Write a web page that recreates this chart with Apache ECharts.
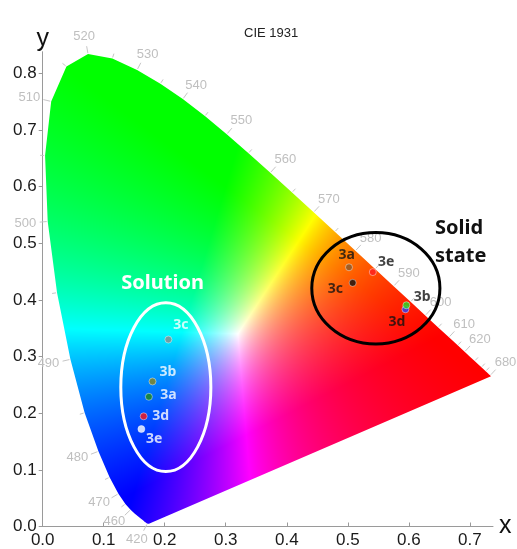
<!DOCTYPE html>
<html><head><meta charset="utf-8">
<script src="https://cdn.jsdelivr.net/npm/echarts@6/dist/echarts.min.js"></script>
<style>html,body{margin:0;padding:0;background:#fff}#c{width:517px;height:549px}</style>
</head><body><div id="c"></div>
<script>
// ---- CIE 1931 spectral locus (x, y) every 5 nm ----
const wavelengths = [380,385,390,395,400,405,410,415,420,425,430,435,440,445,450,455,460,465,470,475,480,485,490,495,500,505,510,515,520,525,530,535,540,545,550,555,560,565,570,575,580,585,590,595,600,605,610,615,620,625,630,635,640,645,650,655,660,665,670,675,680,685,690,695,700];
const locusX = [0.1741,0.1740,0.1738,0.1736,0.1733,0.1730,0.1726,0.1721,0.1714,0.1703,0.1689,0.1669,0.1644,0.1611,0.1566,0.1510,0.1440,0.1355,0.1241,0.1096,0.0913,0.0687,0.0454,0.0235,0.0082,0.0039,0.0139,0.0389,0.0743,0.1142,0.1547,0.1929,0.2296,0.2658,0.3016,0.3373,0.3731,0.4087,0.4441,0.4788,0.5125,0.5448,0.5752,0.6029,0.6270,0.6482,0.6658,0.6801,0.6915,0.7006,0.7079,0.7140,0.7190,0.7230,0.7260,0.7283,0.7300,0.7311,0.7320,0.7327,0.7334,0.7340,0.7344,0.7346,0.7347];
const locusY = [0.0050,0.0050,0.0049,0.0049,0.0048,0.0048,0.0048,0.0048,0.0051,0.0058,0.0069,0.0086,0.0109,0.0138,0.0177,0.0227,0.0297,0.0399,0.0578,0.0868,0.1327,0.2007,0.2950,0.4127,0.5384,0.6548,0.7502,0.8120,0.8338,0.8262,0.8059,0.7816,0.7543,0.7243,0.6923,0.6589,0.6245,0.5896,0.5547,0.5202,0.4866,0.4544,0.4242,0.3965,0.3725,0.3514,0.3340,0.3197,0.3083,0.2993,0.2920,0.2859,0.2809,0.2770,0.2740,0.2717,0.2700,0.2689,0.2680,0.2673,0.2666,0.2660,0.2656,0.2654,0.2653];

// wavelength annotations along the locus
const labeledWavelengths = [420,460,470,480,490,500,510,520,530,540,550,560,570,580,590,600,610,620,680];
const minorWavelengths = [465,475,485,495,505,515,525,535,545,555,565,575,585,595,605,615,630,640,650];

// axis ticks
const xTicks = [0,0.1,0.2,0.3,0.4,0.5,0.6,0.7];
const yTicks = [0,0.1,0.2,0.3,0.4,0.5,0.6,0.7,0.8];

// samples: solution
const solutionNames = ['3a','3b','3c','3d','3e'];
const solutionX = [0.174,0.180,0.206,0.1655,0.1617];
const solutionY = [0.229,0.256,0.330,0.1945,0.172];
// samples: solid state (3d listed before 3b so 3b sits on top)
const solidNames = ['3a','3e','3c','3d','3b'];
const solidX = [0.502,0.541,0.508,0.5945,0.596];
const solidY = [0.4575,0.449,0.430,0.3834,0.3905];

// grouping ellipses: [cx, cy, rx, ry] in chromaticity units
const solutionEllipse = [0.2018,0.2459,0.0738,0.149];
const solidEllipse = [0.546,0.4205,0.105,0.0983];

// neutral point of the colour rendering (x, y)
const renderWhite = [0.32, 0.34];

// ---- styles ----
const solutionColors = {'3a':'#1d8a1d','3b':'#8a8418','3c':'#8c8c8c','3d':'#ff1414','3e':'#ffffff'};
const solidColors = {'3a':'#8b5a2b','3b':'#22e022','3c':'#111111','3d':'#2a40ff','3e':'#ff2020'};
const solutionLabelOffset = {'3a':[19.6,-1.3],'3b':[15.4,-9],'3c':[12.4,-14.3],'3d':[17,0],'3e':[12.7,10.3]};
const solidLabelOffset = {'3a':[-2.3,-12.3],'3e':[13.3,-10.3],'3c':[-17.4,6],'3b':[15.7,-8],'3d':[-8.6,12.4]};

function idx(wl){ return wavelengths.indexOf(wl); }

function xyToLinRGB(x, y){
  if (y < 0.002) y = 0.002;
  const X = x / y, Y = 1, Z = (1 - x - y) / y;
  return [3.2406*X - 1.5372*Y - 0.4986*Z,
          -0.9689*X + 1.8758*Y + 0.0415*Z,
          0.0557*X - 0.2040*Y + 1.0570*Z];
}
const wRGB = xyToLinRGB(renderWhite[0], renderWhite[1]);
// colour of a chromaticity point (white-balanced, clipped, max-normalised)
function chromaColor(x, y){
  const c = xyToLinRGB(x, y);
  let r = Math.max(c[0]/wRGB[0],0), g = Math.max(c[1]/wRGB[1],0), b = Math.max(c[2]/wRGB[2],0);
  const m = Math.max(r,g,b,1e-6);
  return [r/m, g/m, b/m];
}

let fieldCanvas = null;
function buildField(api){
  if (fieldCanvas) return fieldCanvas;
  const W = api.getWidth(), H = api.getHeight();
  const p0 = api.coord([0,0]), p1 = api.coord([1,1]);
  const sx = p1[0]-p0[0], sy = p1[1]-p0[1];
  const cv = document.createElement('canvas');
  cv.width = W; cv.height = H;
  const ctx = cv.getContext('2d');
  const img = ctx.createImageData(W, H);
  for (let py=0; py<H; py++){
    const y = (py+0.5-p0[1])/sy;
    for (let px=0; px<W; px++){
      const x = (px+0.5-p0[0])/sx;
      const c = chromaColor(x, y);
      const k = (py*W+px)*4;
      img.data[k] = Math.round(c[0]*255);
      img.data[k+1] = Math.round(c[1]*255);
      img.data[k+2] = Math.round(c[2]*255);
      img.data[k+3] = 255;
    }
  }
  ctx.putImageData(img,0,0);
  fieldCanvas = cv;
  return cv;
}

// wavelength tick data: [x, y, wl, labeled]
const wlData = labeledWavelengths.map(w => [locusX[idx(w)], locusY[idx(w)], w, 1])
  .concat(minorWavelengths.map(w => [locusX[idx(w)], locusY[idx(w)], w, 0]));

const font = '"Liberation Sans", Arial, sans-serif';
const boldFont = '"Noto Sans", "Open Sans", sans-serif';

const chart = echarts.init(document.getElementById('c'));
chart.setOption({
  animation: false,
  backgroundColor: '#fff',
  title: { text: 'CIE 1931', left: 239, top: 22,
    textStyle: { fontSize: 13, fontWeight: 'normal', color: '#222', fontFamily: font } },
  grid: { left: 42.7, right: 24, top: 51.7, bottom: 22.5 },
  xAxis: {
    type: 'value', min: 0, max: 0.738,
    name: 'x', nameLocation: 'end', nameGap: 6,
    nameTextStyle: { fontSize: 25, color: '#111', fontFamily: font, verticalAlign: 'middle' },
    axisLine: { show: true, lineStyle: { color: '#9a9a9a', width: 1 } },
    axisTick: { show: true, inside: true, length: 4, customValues: xTicks, lineStyle: { color: '#9a9a9a' } },
    axisLabel: { customValues: xTicks, formatter: v => v.toFixed(1), fontSize: 17, color: '#1a1a1a', fontFamily: font, margin: 5 },
    splitLine: { show: false }
  },
  yAxis: {
    type: 'value', min: 0, max: 0.838,
    name: 'y', nameLocation: 'end', nameGap: 0,
    nameTextStyle: { fontSize: 25, color: '#111', fontFamily: font, align: 'center' },
    axisLine: { show: true, lineStyle: { color: '#9a9a9a', width: 1 } },
    axisTick: { show: true, inside: false, length: 4, customValues: yTicks, lineStyle: { color: '#9a9a9a' } },
    axisLabel: { customValues: yTicks, formatter: v => v.toFixed(1), fontSize: 17, color: '#1a1a1a', fontFamily: font, margin: 6 },
    splitLine: { show: false }
  },
  series: [
    { // colour-filled gamut
      type: 'custom', z: 1, silent: true, clip: false,
      data: [[locusX[0], locusY[0]]],
      renderItem: function(params, api){
        const pts = locusX.map((x,i) => api.coord([x, locusY[i]]));
        const cv = buildField(api);
        return { type: 'polygon', shape: { points: pts },
          style: { fill: { image: cv, repeat: 'no-repeat' }, stroke: null } };
      }
    },
    { // wavelength ticks & labels
      type: 'custom', z: 2, silent: true, clip: false,
      data: wlData,
      renderItem: function(params, api){
        const w = api.value(2), lab = api.value(3);
        const i = idx(w);
        const p = api.coord([locusX[i], locusY[i]]);
        const a = api.coord([locusX[i-1], locusY[i-1]]);
        const b = api.coord([locusX[i+1], locusY[i+1]]);
        let tx = b[0]-a[0], ty = b[1]-a[1];
        const L = Math.hypot(tx,ty) || 1; tx/=L; ty/=L;
        let nx = ty, ny = -tx;
        const c = api.coord([0.33,0.33]);
        if ((p[0]-c[0])*nx + (p[1]-c[1])*ny < 0){ nx=-nx; ny=-ny; }
        const len = lab ? 8 : 5;
        const children = [{ type:'line', shape:{ x1:p[0]+nx*1, y1:p[1]+ny*1, x2:p[0]+nx*len, y2:p[1]+ny*len },
          style:{ stroke:'#c6c6c6', lineWidth:1 } }];
        if (lab){
          const gap = 11.5, hw = 11, hh = 6;
          children.push({ type:'text', x: p[0]+nx*gap+nx*hw, y: p[1]+ny*gap+ny*hh,
            style:{ text: String(w), fill:'#bfbfbf', font: '13px ' + font, align:'center', verticalAlign:'middle' } });
        }
        return { type:'group', children };
      }
    },
    { // grouping ellipses
      type: 'custom', z: 3, silent: true, clip: false,
      data: [solutionEllipse.concat([0]), solidEllipse.concat([1])],
      renderItem: function(params, api){
        const c = api.coord([api.value(0), api.value(1)]);
        const s = api.size([api.value(2), api.value(3)]);
        return { type:'ellipse', shape:{ cx:c[0], cy:c[1], rx:s[0], ry:s[1] },
          style:{ fill:'none', stroke: api.value(4) ? '#000' : '#fff', lineWidth: 3 } };
      }
    },
    { // solution samples
      type: 'scatter', z: 5, symbolSize: 7,
      data: solutionNames.map((n,i) => ({
        name: n, value: [solutionX[i], solutionY[i]],
        itemStyle: { color: solutionColors[n], borderColor: 'rgba(255,255,255,0.55)', borderWidth: 1 },
        label: { show: true, formatter: n, position: 'inside', offset: solutionLabelOffset[n],
          color: '#fff', fontSize: 14, fontWeight: 'bold', fontFamily: boldFont }
      }))
    },
    { // solid-state samples
      type: 'scatter', z: 5, symbolSize: 7,
      data: solidNames.map((n,i) => ({
        name: n, value: [solidX[i], solidY[i]],
        itemStyle: { color: solidColors[n], borderColor: 'rgba(255,255,255,0.55)', borderWidth: 1 },
        label: { show: true, formatter: n, position: 'inside', offset: solidLabelOffset[n],
          color: '#111', fontSize: 14, fontWeight: 'bold', fontFamily: boldFont }
      }))
    },
    { // group captions
      type: 'custom', z: 6, silent: true, clip: false,
      data: [[0.1965, 0.4295, 0], [0.643, 0.502, 1]],
      renderItem: function(params, api){
        const p = api.coord([api.value(0), api.value(1)]);
        const solid = api.value(2) === 1;
        return { type:'text', x: p[0], y: p[1],
          style:{ text: solid ? 'Solid\nstate' : 'Solution', fill: solid ? '#111' : '#fff',
            font: 'bold 20px ' + boldFont, align: solid ? 'left' : 'center', verticalAlign:'middle',
            lineHeight: 28 } };
      }
    }
  ]
});
</script></body></html>
